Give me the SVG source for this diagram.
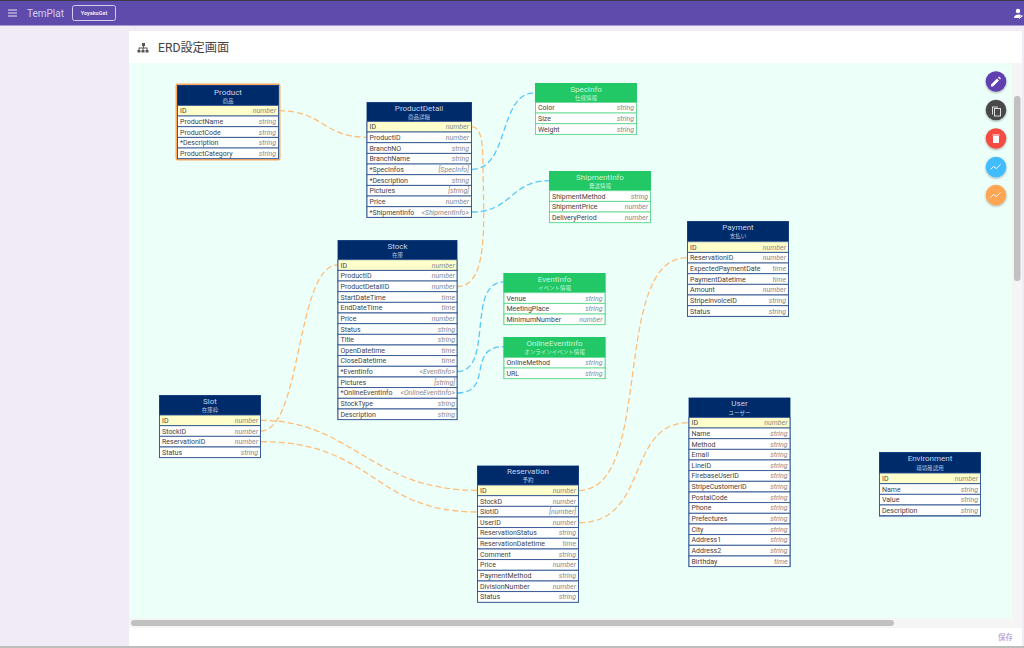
<svg xmlns="http://www.w3.org/2000/svg" width="1024" height="648" viewBox="0 0 1024 648">
<style>
text{font-family:Roboto,"Noto Sans CJK JP",sans-serif}
.h{fill:#002b6b}.hg{fill:#22c866}
.box{fill:#fff;stroke:#2f5590;stroke-width:1}
.boxg{fill:#fff;stroke:#5ed88f;stroke-width:1}
.r{fill:#fff;stroke:#2f5590;stroke-width:.9}
.rg{fill:#fff;stroke:#5ed88f;stroke-width:.9}
.k{fill:#ffffcc;stroke:#2f5590;stroke-width:.9}
.n{font-size:7px;fill:#444}
.t{font-size:7px;fill:#888;font-style:italic;text-anchor:end}
.ti{font-size:8px;fill:#c5d3ea;text-anchor:middle}
.su{font-size:5.5px;fill:#b9c8e2;text-anchor:middle}
.tig{font-size:8px;fill:#c9f5da;text-anchor:middle}
.sug{font-size:5.5px;fill:#c9f5da;text-anchor:middle}
.o{fill:none;stroke:#ffbd7a;stroke-width:1.3;stroke-dasharray:6 3}
.b{fill:none;stroke:#5cc8f8;stroke-width:1.3;stroke-dasharray:6 3}
</style>
<defs><filter id="sh" x="-30%" y="-30%" width="160%" height="160%"><feDropShadow dx="0" dy="1" stdDeviation="1" flood-opacity=".35"/></filter></defs>
<rect width="1024" height="648" fill="#f0ebf4"/>
<rect width="1024" height="25.500" fill="#5e4bab"/>
<rect width="1024" height="1" fill="#3a3a4a"/>
<g id="appbar">
<path d="M8 10h9M8 13h9M8 16h9" stroke="#e8e4f5" stroke-width="1.200"/>
<text x="27" y="17" font-size="10" fill="#d4cdee">TemPlat</text>
<rect x="72.500" y="5.500" width="43" height="15" rx="2" fill="none" stroke="#d4cdee"/>
<text x="94" y="14.500" font-size="5.500" font-weight="700" fill="#e8e4f5" text-anchor="middle">YoyakuGet</text>
<circle cx="1018" cy="11" r="2.200" fill="#fff"/><path d="M1014 18c0-4 6-4 7-3l-2 3zM1019 18l3-3 1 1-4 3z" fill="#fff"/>
</g>
<rect x="129" y="31" width="893" height="615" fill="#fff"/>
<rect x="129" y="63" width="882.500" height="555" fill="#edfff9"/>
<rect x="1011.500" y="63" width="10.500" height="565" fill="#f5f5f5"/>
<rect x="129" y="618" width="882.500" height="10" fill="#f5f5f5"/>
<rect x="1014" y="96" width="6.500" height="185" rx="3" fill="#c1c1c1"/>
<rect x="131" y="620" width="763" height="6" rx="3" fill="#c1c1c1"/>
<rect y="646" width="1024" height="2" fill="#bdbdbd"/>
<g id="title">
<path d="M142 43h3v3h-1v1.500h3.500V50h1v2.500h-3V50h1v-1.500h-3V50h1v2.500h-3V50h1v-1.500h-3V50h1v2.500h-3V50h1v-2.500H143V46h-1z" fill="#555"/>
<text x="158" y="52" font-size="12.200" fill="#444">ERD設定画面</text>
</g>
<text id="save" x="998" y="640" font-size="7.500" fill="#9c90d0">保存</text>
<g id="connectors">
<path class="o" d="M279 110.700C323 110.700 323 137.300 367 137.300"/>
<path class="o" d="M471.700 126.700C482 127 483 145 483 170C484 225 488 286.500 457.300 286.500"/>
<path class="b" d="M471.700 169.300C510 169.300 498 92.700 535 92.700"/>
<path class="b" d="M471.700 212C512 212 510 180.700 549.300 180.700"/>
<path class="b" d="M457.300 371.500C494 371.500 466 282 503.700 282"/>
<path class="b" d="M457.300 393C494 393 466 346.700 503.700 346.700"/>
<path class="o" d="M260.700 431C302 431 296 265 337.700 265"/>
<path class="o" d="M260.700 420.300C352 420.300 370 490.300 477.300 490.300"/>
<path class="o" d="M260.700 441.700C375 441.700 372 512 477.300 512"/>
<path class="o" d="M579 490.300C655 490.300 610 257.700 687 257.700"/>
<path class="o" d="M579 522.700C650 522.700 625 422.700 688.700 422.700"/>
</g>
<g id="Product">
<rect x="176.500" y="84.500" width="103" height="75" rx="1" fill="none" stroke="#ffa95c" stroke-width="2"/>
<rect class="box" x="177.500" y="85.500" width="101" height="73"/>
<rect class="h" x="177.500" y="85.500" width="101" height="20"/>
<text class="ti" x="228" y="94.500">Product</text><text class="su" x="228" y="103">商品</text>
<rect class="k" x="177.500" y="105.400" width="101" height="10.660"/><text class="n" x="180" y="113.200">ID</text><text class="t" x="276" y="113.200">number</text>
<rect class="r" x="177.500" y="116" width="101" height="10.660"/><text class="n" x="180" y="123.800">ProductName</text><text class="t" x="276" y="123.800">string</text>
<rect class="r" x="177.500" y="126.700" width="101" height="10.660"/><text class="n" x="180" y="134.500">ProductCode</text><text class="t" x="276" y="134.500">string</text>
<rect class="r" x="177.500" y="137.400" width="101" height="10.660"/><text class="n" x="180" y="145.200">*Description</text><text class="t" x="276" y="145.200">string</text>
<rect class="r" x="177.500" y="148" width="101" height="10.660"/><text class="n" x="180" y="155.800">ProductCategory</text><text class="t" x="276" y="155.800">string</text>
</g>
<g id="ProductDetail">
<rect class="box" x="367" y="102.500" width="104.500" height="115"/>
<rect class="h" x="367" y="102.500" width="104.500" height="19"/>
<text class="ti" x="419" y="110.500">ProductDetail</text><text class="su" x="419" y="119">商品詳細</text>
<rect class="k" x="367" y="121.400" width="104.500" height="10.660"/><text class="n" x="369.500" y="129.200">ID</text><text class="t" x="469" y="129.200">number</text>
<rect class="r" x="367" y="132" width="104.500" height="10.660"/><text class="n" x="369.500" y="139.800">ProductID</text><text class="t" x="469" y="139.800">number</text>
<rect class="r" x="367" y="142.700" width="104.500" height="10.660"/><text class="n" x="369.500" y="150.500">BranchNO</text><text class="t" x="469" y="150.500">string</text>
<rect class="r" x="367" y="153.400" width="104.500" height="10.660"/><text class="n" x="369.500" y="161.200">BranchName</text><text class="t" x="469" y="161.200">string</text>
<rect class="r" x="367" y="164" width="104.500" height="10.660"/><text class="n" x="369.500" y="171.800">*SpecInfos</text><text class="t" x="469" y="171.800">[SpecInfo]</text>
<rect class="r" x="367" y="174.700" width="104.500" height="10.660"/><text class="n" x="369.500" y="182.500">*Description</text><text class="t" x="469" y="182.500">string</text>
<rect class="r" x="367" y="185.400" width="104.500" height="10.660"/><text class="n" x="369.500" y="193.200">Pictures</text><text class="t" x="469" y="193.200">[string]</text>
<rect class="r" x="367" y="196" width="104.500" height="10.660"/><text class="n" x="369.500" y="203.800">Price</text><text class="t" x="469" y="203.800">number</text>
<rect class="r" x="367" y="206.700" width="104.500" height="10.660"/><text class="n" x="369.500" y="214.500">*ShipmentInfo</text><text class="t" x="469" y="214.500">&lt;ShipmentInfo&gt;</text>
</g>
<g id="SpecInfo">
<rect class="boxg" x="535.500" y="83.500" width="101" height="50.500"/>
<rect class="hg" x="535" y="83" width="102" height="19.500"/>
<text class="tig" x="586" y="91.500">SpecInfo</text><text class="sug" x="586" y="100">仕様情報</text>
<rect class="rg" x="535.500" y="102.400" width="101" height="10.660"/><text class="n" x="538" y="110.200">Color</text><text class="t" x="634" y="110.200">string</text>
<rect class="rg" x="535.500" y="113" width="101" height="10.660"/><text class="n" x="538" y="120.800">Size</text><text class="t" x="634" y="120.800">string</text>
<rect class="rg" x="535.500" y="123.700" width="101" height="10.660"/><text class="n" x="538" y="131.500">Weight</text><text class="t" x="634" y="131.500">string</text>
</g>
<g id="ShipmentInfo">
<rect class="boxg" x="549.500" y="171.500" width="101" height="51"/>
<rect class="hg" x="549" y="171" width="102" height="19.700"/>
<text class="tig" x="600" y="179.500">ShipmentInfo</text><text class="sug" x="600" y="188">発送情報</text>
<rect class="rg" x="549.500" y="190.700" width="101" height="10.660"/><text class="n" x="552" y="198.500">ShipmentMethod</text><text class="t" x="648" y="198.500">string</text>
<rect class="rg" x="549.500" y="201.400" width="101" height="10.660"/><text class="n" x="552" y="209.200">ShipmentPrice</text><text class="t" x="648" y="209.200">number</text>
<rect class="rg" x="549.500" y="212" width="101" height="10.660"/><text class="n" x="552" y="219.800">DeliveryPeriod</text><text class="t" x="648" y="219.800">number</text>
</g>
<g id="Stock">
<rect class="box" x="338" y="240.500" width="119" height="179"/>
<rect class="h" x="338" y="240.500" width="119" height="19.500"/>
<text class="ti" x="397.500" y="248.500">Stock</text><text class="su" x="397.500" y="257">在庫</text>
<rect class="k" x="338" y="259.700" width="119" height="10.660"/><text class="n" x="340.500" y="267.500">ID</text><text class="t" x="455" y="267.500">number</text>
<rect class="r" x="338" y="270.400" width="119" height="10.660"/><text class="n" x="340.500" y="278.200">ProductID</text><text class="t" x="455" y="278.200">number</text>
<rect class="r" x="338" y="281" width="119" height="10.660"/><text class="n" x="340.500" y="288.800">ProductDetailID</text><text class="t" x="455" y="288.800">number</text>
<rect class="r" x="338" y="291.700" width="119" height="10.660"/><text class="n" x="340.500" y="299.500">StartDateTime</text><text class="t" x="455" y="299.500">time</text>
<rect class="r" x="338" y="302.300" width="119" height="10.660"/><text class="n" x="340.500" y="310.100">EndDateTime</text><text class="t" x="455" y="310.100">time</text>
<rect class="r" x="338" y="313" width="119" height="10.660"/><text class="n" x="340.500" y="320.800">Price</text><text class="t" x="455" y="320.800">number</text>
<rect class="r" x="338" y="323.700" width="119" height="10.660"/><text class="n" x="340.500" y="331.500">Status</text><text class="t" x="455" y="331.500">string</text>
<rect class="r" x="338" y="334.300" width="119" height="10.660"/><text class="n" x="340.500" y="342.100">Title</text><text class="t" x="455" y="342.100">string</text>
<rect class="r" x="338" y="345" width="119" height="10.660"/><text class="n" x="340.500" y="352.800">OpenDatetime</text><text class="t" x="455" y="352.800">time</text>
<rect class="r" x="338" y="355.600" width="119" height="10.660"/><text class="n" x="340.500" y="363.400">CloseDatetime</text><text class="t" x="455" y="363.400">time</text>
<rect class="r" x="338" y="366.300" width="119" height="10.660"/><text class="n" x="340.500" y="374.100">*EventInfo</text><text class="t" x="455" y="374.100">&lt;EventInfo&gt;</text>
<rect class="r" x="338" y="377" width="119" height="10.660"/><text class="n" x="340.500" y="384.800">Pictures</text><text class="t" x="455" y="384.800">[string]</text>
<rect class="r" x="338" y="387.600" width="119" height="10.660"/><text class="n" x="340.500" y="395.400">*OnlineEventInfo</text><text class="t" x="455" y="395.400">&lt;OnlineEventInfo&gt;</text>
<rect class="r" x="338" y="398.300" width="119" height="10.660"/><text class="n" x="340.500" y="406.100">StockType</text><text class="t" x="455" y="406.100">string</text>
<rect class="r" x="338" y="409" width="119" height="10.660"/><text class="n" x="340.500" y="416.800">Description</text><text class="t" x="455" y="416.800">string</text>
</g>
<g id="EventInfo">
<rect class="boxg" x="504" y="273.500" width="101" height="51"/>
<rect class="hg" x="503.500" y="273" width="102" height="19.700"/>
<text class="tig" x="554.500" y="281.500">EventInfo</text><text class="sug" x="554.500" y="290">イベント情報</text>
<rect class="rg" x="504" y="292.700" width="101" height="10.660"/><text class="n" x="506.500" y="300.500">Venue</text><text class="t" x="602.500" y="300.500">string</text>
<rect class="rg" x="504" y="303.400" width="101" height="10.660"/><text class="n" x="506.500" y="311.200">MeetingPlace</text><text class="t" x="602.500" y="311.200">string</text>
<rect class="rg" x="504" y="314" width="101" height="10.660"/><text class="n" x="506.500" y="321.800">MinimumNumber</text><text class="t" x="602.500" y="321.800">number</text>
</g>
<g id="OnlineEventInfo">
<rect class="boxg" x="504" y="337.500" width="101" height="41"/>
<rect class="hg" x="503.500" y="337" width="102" height="20.500"/>
<text class="tig" x="554.500" y="345.500">OnlineEventInfo</text><text class="sug" x="554.500" y="354">オンラインイベント情報</text>
<rect class="rg" x="504" y="357.400" width="101" height="10.660"/><text class="n" x="506.500" y="365.200">OnlineMethod</text><text class="t" x="602.500" y="365.200">string</text>
<rect class="rg" x="504" y="368" width="101" height="10.660"/><text class="n" x="506.500" y="375.800">URL</text><text class="t" x="602.500" y="375.800">string</text>
</g>
<g id="Slot">
<rect class="box" x="159.500" y="395.500" width="101" height="62"/>
<rect class="h" x="159.500" y="395.500" width="101" height="19.500"/>
<text class="ti" x="210" y="403.500">Slot</text><text class="su" x="210" y="412">在庫枠</text>
<rect class="k" x="159.500" y="415" width="101" height="10.660"/><text class="n" x="162" y="422.800">ID</text><text class="t" x="258" y="422.800">number</text>
<rect class="r" x="159.500" y="425.700" width="101" height="10.660"/><text class="n" x="162" y="433.500">StockID</text><text class="t" x="258" y="433.500">number</text>
<rect class="r" x="159.500" y="436.300" width="101" height="10.660"/><text class="n" x="162" y="444.100">ReservationID</text><text class="t" x="258" y="444.100">number</text>
<rect class="r" x="159.500" y="447" width="101" height="10.660"/><text class="n" x="162" y="454.800">Status</text><text class="t" x="258" y="454.800">string</text>
</g>
<g id="Reservation">
<rect class="box" x="477.500" y="466" width="101" height="136"/>
<rect class="h" x="477.500" y="466" width="101" height="19"/>
<text class="ti" x="528" y="473.500">Reservation</text><text class="su" x="528" y="482">予約</text>
<rect class="k" x="477.500" y="485" width="101" height="10.660"/><text class="n" x="480" y="492.800">ID</text><text class="t" x="576" y="492.800">number</text>
<rect class="r" x="477.500" y="495.700" width="101" height="10.660"/><text class="n" x="480" y="503.500">StockD</text><text class="t" x="576" y="503.500">number</text>
<rect class="r" x="477.500" y="506.300" width="101" height="10.660"/><text class="n" x="480" y="514.100">SlotID</text><text class="t" x="576" y="514.100">[number]</text>
<rect class="r" x="477.500" y="517" width="101" height="10.660"/><text class="n" x="480" y="524.800">UserID</text><text class="t" x="576" y="524.800">number</text>
<rect class="r" x="477.500" y="527.600" width="101" height="10.660"/><text class="n" x="480" y="535.400">ReservationStatus</text><text class="t" x="576" y="535.400">string</text>
<rect class="r" x="477.500" y="538.300" width="101" height="10.660"/><text class="n" x="480" y="546.100">ReservationDatetime</text><text class="t" x="576" y="546.100">time</text>
<rect class="r" x="477.500" y="549" width="101" height="10.660"/><text class="n" x="480" y="556.800">Comment</text><text class="t" x="576" y="556.800">string</text>
<rect class="r" x="477.500" y="559.600" width="101" height="10.660"/><text class="n" x="480" y="567.400">Price</text><text class="t" x="576" y="567.400">number</text>
<rect class="r" x="477.500" y="570.300" width="101" height="10.660"/><text class="n" x="480" y="578.100">PaymentMethod</text><text class="t" x="576" y="578.100">string</text>
<rect class="r" x="477.500" y="581" width="101" height="10.660"/><text class="n" x="480" y="588.800">DivisionNumber</text><text class="t" x="576" y="588.800">number</text>
<rect class="r" x="477.500" y="591.600" width="101" height="10.660"/><text class="n" x="480" y="599.400">Status</text><text class="t" x="576" y="599.400">string</text>
</g>
<g id="Payment">
<rect class="box" x="687.500" y="221.500" width="101" height="95"/>
<rect class="h" x="687.500" y="221.500" width="101" height="20"/>
<text class="ti" x="738" y="229.500">Payment</text><text class="su" x="738" y="238">支払い</text>
<rect class="k" x="687.500" y="241.700" width="101" height="10.660"/><text class="n" x="690" y="249.500">ID</text><text class="t" x="786" y="249.500">number</text>
<rect class="r" x="687.500" y="252.400" width="101" height="10.660"/><text class="n" x="690" y="260.200">ReservationID</text><text class="t" x="786" y="260.200">number</text>
<rect class="r" x="687.500" y="263" width="101" height="10.660"/><text class="n" x="690" y="270.800">ExpectedPaymentDate</text><text class="t" x="786" y="270.800">time</text>
<rect class="r" x="687.500" y="273.700" width="101" height="10.660"/><text class="n" x="690" y="281.500">PaymentDatetime</text><text class="t" x="786" y="281.500">time</text>
<rect class="r" x="687.500" y="284.300" width="101" height="10.660"/><text class="n" x="690" y="292.100">Amount</text><text class="t" x="786" y="292.100">number</text>
<rect class="r" x="687.500" y="295" width="101" height="10.660"/><text class="n" x="690" y="302.800">StripeInvoiceID</text><text class="t" x="786" y="302.800">string</text>
<rect class="r" x="687.500" y="305.700" width="101" height="10.660"/><text class="n" x="690" y="313.500">Status</text><text class="t" x="786" y="313.500">string</text>
</g>
<g id="User">
<rect class="box" x="689" y="398" width="101" height="168.500"/>
<rect class="h" x="689" y="398" width="101" height="19.500"/>
<text class="ti" x="739.500" y="406">User</text><text class="su" x="739.500" y="414.500">ユーザー</text>
<rect class="k" x="689" y="417.400" width="101" height="10.660"/><text class="n" x="691.500" y="425.200">ID</text><text class="t" x="787.500" y="425.200">number</text>
<rect class="r" x="689" y="428" width="101" height="10.660"/><text class="n" x="691.500" y="435.800">Name</text><text class="t" x="787.500" y="435.800">string</text>
<rect class="r" x="689" y="438.700" width="101" height="10.660"/><text class="n" x="691.500" y="446.500">Method</text><text class="t" x="787.500" y="446.500">string</text>
<rect class="r" x="689" y="449.300" width="101" height="10.660"/><text class="n" x="691.500" y="457.100">Email</text><text class="t" x="787.500" y="457.100">string</text>
<rect class="r" x="689" y="460" width="101" height="10.660"/><text class="n" x="691.500" y="467.800">LineID</text><text class="t" x="787.500" y="467.800">string</text>
<rect class="r" x="689" y="470.600" width="101" height="10.660"/><text class="n" x="691.500" y="478.400">FirebaseUserID</text><text class="t" x="787.500" y="478.400">string</text>
<rect class="r" x="689" y="481.300" width="101" height="10.660"/><text class="n" x="691.500" y="489.100">StripeCustomerID</text><text class="t" x="787.500" y="489.100">string</text>
<rect class="r" x="689" y="492" width="101" height="10.660"/><text class="n" x="691.500" y="499.800">PostalCode</text><text class="t" x="787.500" y="499.800">string</text>
<rect class="r" x="689" y="502.600" width="101" height="10.660"/><text class="n" x="691.500" y="510.400">Phone</text><text class="t" x="787.500" y="510.400">string</text>
<rect class="r" x="689" y="513.300" width="101" height="10.660"/><text class="n" x="691.500" y="521.100">Prefectures</text><text class="t" x="787.500" y="521.100">string</text>
<rect class="r" x="689" y="524" width="101" height="10.660"/><text class="n" x="691.500" y="531.800">City</text><text class="t" x="787.500" y="531.800">string</text>
<rect class="r" x="689" y="534.600" width="101" height="10.660"/><text class="n" x="691.500" y="542.400">Address1</text><text class="t" x="787.500" y="542.400">string</text>
<rect class="r" x="689" y="545.300" width="101" height="10.660"/><text class="n" x="691.500" y="553.100">Address2</text><text class="t" x="787.500" y="553.100">string</text>
<rect class="r" x="689" y="556" width="101" height="10.660"/><text class="n" x="691.500" y="563.800">Birthday</text><text class="t" x="787.500" y="563.800">time</text>
</g>
<g id="Environment">
<rect class="box" x="879.500" y="452.500" width="101" height="63.500"/>
<rect class="h" x="879.500" y="452.500" width="101" height="20.500"/>
<text class="ti" x="930" y="461">Environment</text><text class="su" x="930" y="469.500">環境確認用</text>
<rect class="k" x="879.500" y="473" width="101" height="10.660"/><text class="n" x="882" y="480.800">ID</text><text class="t" x="978" y="480.800">number</text>
<rect class="r" x="879.500" y="483.700" width="101" height="10.660"/><text class="n" x="882" y="491.500">Name</text><text class="t" x="978" y="491.500">string</text>
<rect class="r" x="879.500" y="494.300" width="101" height="10.660"/><text class="n" x="882" y="502.100">Value</text><text class="t" x="978" y="502.100">string</text>
<rect class="r" x="879.500" y="505" width="101" height="10.660"/><text class="n" x="882" y="512.800">Description</text><text class="t" x="978" y="512.800">string</text>
</g>
<g id="fabs">
<g filter="url(#sh)"><circle cx="996" cy="81.500" r="10.300" fill="#5e3fae"/><circle cx="996" cy="110" r="10.300" fill="#4a4a4a"/><circle cx="996" cy="138.500" r="10.300" fill="#f44b42"/><circle cx="996" cy="167" r="10.300" fill="#41bcff"/><circle cx="996" cy="195" r="10.300" fill="#ffa655"/></g>
<path d="M991 86.500v-2l6-6 2 2-6 6zM998 77.500l1-1 2 2-1 1z" fill="#fff"/>
<path d="M992 106.500h6v1h-5v7h-1z" fill="#ddd"/><rect x="994.500" y="108.500" width="6" height="7.500" fill="none" stroke="#ddd"/>
<path d="M992.500 134.500h7v1h-7zM993 136h6v7h-6z" fill="#fff"/>
<path d="M990.500 169.500l3-3 3 2 4-4" fill="none" stroke="#fff"/>
<path d="M990.500 197.500l3-3 3 2 4-4" fill="none" stroke="#fff"/>
</g>
</svg>
